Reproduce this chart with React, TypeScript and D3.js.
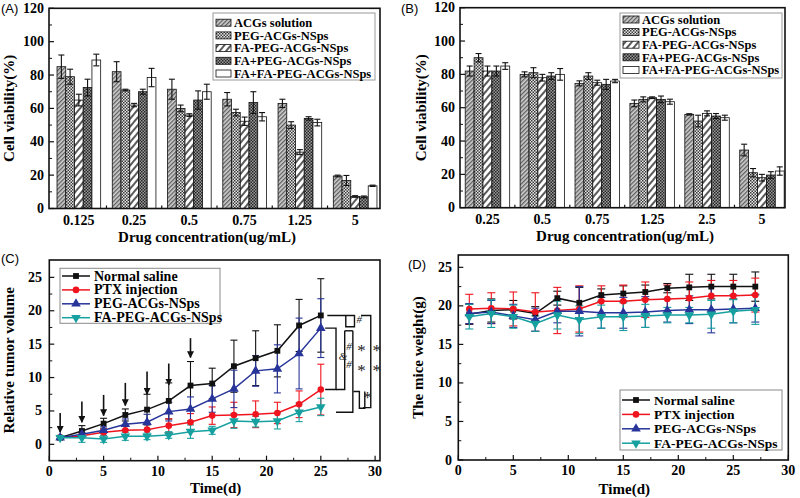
import React from "react";
import * as d3 from "d3";

// ---------- DATA ----------
const seriesNames = ["ACGs solution", "PEG-ACGs-NSps", "FA-PEG-ACGs-NSps", "FA+PEG-ACGs-NSps", "FA+FA-PEG-ACGs-NSps"];

const catsA = ["0.125", "0.25", "0.5", "0.75", "1.25", "5"];
const acgA = [85, 82, 71.5, 65.5, 63, 19.5];
const acgAErr = [7, 6, 6, 4, 2.5, 0.5];
const pegA = [79, 71, 60, 57.5, 50, 16.8];
const pegAErr = [4.5, 0.5, 2, 2, 2, 3];
const faPegA = [65, 62, 56, 52.3, 33.8, 7.2];
const faPegAErr = [3.5, 1, 0.8, 2.5, 1.5, 0.5];
const faPlusPegA = [72.5, 70, 65, 63.5, 54, 7];
const faPlusPegAErr = [5, 1.5, 5.5, 6.5, 1, 0.5];
const faFaA = [89, 78.5, 70, 55, 51.5, 13.6];
const faFaAErr = [3.5, 5.5, 4.5, 2.5, 2, 0.4];

const catsB = ["0.25", "0.5", "0.75", "1.25", "2.5", "5"];
const acgB = [82, 80, 74.6, 62.6, 56, 34.6];
const acgBErr = [3, 1.5, 1.5, 2, 0.4, 3.5];
const pegB = [90, 81, 79, 65, 52, 21];
const pegBErr = [2.5, 3, 2, 1.5, 3.5, 2.5];
const faPegB = [82, 78, 75, 66, 56.6, 18];
const faPegBErr = [3, 2, 1.5, 0.5, 1.5, 2];
const faPlusPegB = [82, 79, 74, 65, 55, 19.6];
const faPlusPegBErr = [3, 2, 3, 2, 1.5, 2];
const faFaB = [85, 80, 76, 63.6, 54, 22];
const faFaBErr = [2, 3.5, 1, 1.5, 1.5, 2.5];

const lineNames = ["Normal saline", "PTX injection", "PEG-ACGs-NSps", "FA-PEG-ACGs-NSps"];

const daysC = [1, 3, 5, 7, 9, 11, 13, 15, 17, 19, 21, 23, 25];
const salineC = [1, 2.0, 3.1, 4.4, 5.2, 6.5, 8.8, 9.1, 11.7, 12.9, 14.0, 17.8, 19.3];
const salineCErr = [0.2, 0.8, 0.8, 0.9, 2.3, 2.7, 3.6, 2.3, 3.9, 4.1, 3.9, 3.9, 5.5];
const ptxC = [1, 1.3, 1.8, 2.1, 2.2, 2.8, 3.3, 4.3, 4.4, 4.5, 4.7, 6.0, 8.2];
const ptxCErr = [0.2, 0.3, 0.5, 0.7, 0.8, 1.0, 1.3, 1.3, 1.9, 2.0, 1.6, 2.0, 3.8];
const pegC = [1, 1.5, 2.1, 3.0, 3.3, 4.9, 5.3, 6.8, 8.3, 11.0, 11.3, 13.6, 17.4];
const pegCErr = [0.2, 0.3, 0.5, 0.8, 1.2, 1.4, 1.8, 2.0, 2.8, 2.3, 3.6, 5.3, 4.4];
const faPegC = [1, 1.0, 0.8, 1.2, 1.2, 1.4, 1.9, 2.1, 3.5, 3.4, 3.5, 4.8, 5.6];
const faPegCErr = [0.2, 0.7, 0.5, 0.6, 0.5, 0.5, 1.0, 0.6, 1.1, 0.8, 1.2, 1.4, 1.3];
const arrowDays = [1, 3, 5, 7, 9, 11, 13];
const arrowTop = [4.7, 6.4, 7.4, 9.2, 10.9, 12.1, 15.9];
const arrowTip = [1.8, 3.3, 4.3, 5.8, 7.5, 8.9, 13.0];

const daysD = [1, 3, 5, 7, 9, 11, 13, 15, 17, 19, 21, 23, 25, 27];
const salineD = [18.9, 19.4, 19.5, 19.0, 21.0, 20.4, 21.4, 21.6, 21.8, 22.3, 22.4, 22.5, 22.5, 22.5];
const salineDErr = [1.3, 1.5, 1.2, 0.9, 0.9, 2.0, 0.8, 1.0, 0.9, 0.6, 1.7, 1.6, 1.6, 1.9];
const ptxD = [19.6, 19.7, 19.6, 19.2, 19.4, 19.6, 20.6, 20.6, 20.8, 20.9, 21.0, 21.3, 21.3, 21.4];
const ptxDErr = [1.9, 2.0, 2.2, 2.5, 3.0, 3.0, 2.0, 2.1, 2.3, 1.8, 2.1, 2.0, 2.0, 2.2];
const pegD = [19.0, 19.2, 18.7, 18.2, 19.3, 19.3, 19.1, 19.1, 19.2, 19.4, 19.5, 19.5, 19.6, 19.7];
const pegDErr = [1.3, 1.5, 1.5, 1.5, 1.5, 3.2, 2.0, 2.0, 2.0, 1.5, 1.8, 3.0, 1.8, 1.8];
const faPegD = [18.6, 19.0, 18.6, 17.7, 18.8, 18.2, 18.6, 18.6, 18.7, 18.8, 18.8, 18.9, 19.3, 19.5];
const faPegDErr = [1.6, 1.8, 1.5, 1.0, 1.8, 1.8, 1.5, 1.8, 1.5, 1.0, 1.0, 1.8, 1.5, 1.9];

// significance brackets of panel C, in data units (day, volume)
const bracketPaths: [number, number][][] = [
  [[25.4, 17.4], [26.4, 17.4], [26.4, 8.2], [25.4, 8.2]],
  [[25.6, 19.3], [28.1, 19.3], [28.1, 17.6], [27.3, 17.6], [27.3, 19.3]],
  [[27.2, 17.0], [27.95, 17.0]],
  [[26.4, 8.2], [27.2, 8.2], [27.2, 17.0]],
  [[26.4, 4.8], [27.95, 4.8], [27.95, 17.0]],
  [[28.7, 19.3], [29.6, 19.3], [29.6, 5.5], [28.9, 5.5]],
  [[28.0, 7.9], [28.55, 7.9], [28.55, 5.4], [29.05, 5.4], [29.05, 7.9]],
];
const bracketLabels: [number, number, string][] = [
  [27.05, 12.6, "&"],
  [28.55, 18.1, "#"],
  [27.6, 14.1, "#"],
  [27.6, 11.4, "#"],
  [28.75, 13.3, "*"],
  [28.75, 10.3, "*"],
  [30.15, 13.3, "*"],
  [30.15, 10.3, "*"],
  [29.3, 6.2, "*"],
];

// ---------- STYLE ----------
const serif = "'Liberation Serif', 'Times New Roman', serif";
const sans = "'Liberation Sans', Arial, sans-serif";
const patterns = ["url(#pACG)", "url(#pPEG)", "url(#pFAPEG)", "url(#pFAP)", "#ffffff"];
const lineColors = ["#111111", "#f0141e", "#27349a", "#17a0a0"];
const markerTypes = [d3.symbolSquare, d3.symbolCircle, d3.symbolTriangle, d3.symbolTriangle];

type BarProps = {
  L: number; R: number; T: number; B: number;
  xDom: [number, number];
  cats: string[];
  vals: number[][];
  errs: number[][];
  bw: number;
  legend: { x: number; y: number; w: number; h: number; y0: number; dy: number; sw: number };
  yLabelX: number; tickLabelR: number;
  xTitleX: number;
  tag: string; tagX: number;
};

function BarPanel(p: BarProps) {
  const xs = d3.scaleLinear().domain(p.xDom).range([p.L, p.R]);
  const ys = d3.scaleLinear().domain([0, 120]).range([p.B, p.T]);
  const bwPx = xs(p.bw) - xs(0);
  const yMajor = d3.range(0, 121, 20);
  const yMinor = d3.range(10, 120, 20);
  return (
    <g>
      <text x={p.tagX} y={13} fontFamily={sans} fontSize={13}>{p.tag}</text>
      {p.vals.map((arr, s) =>
        arr.map((v, i) => {
          const x0 = xs(i - 2.5 * p.bw + s * p.bw);
          return (
            <rect key={`b${s}-${i}`} x={x0} y={ys(v)} width={bwPx} height={ys(0) - ys(v)}
              fill={patterns[s]} stroke="#111" strokeWidth={0.8} />
          );
        })
      )}
      {p.vals.map((arr, s) =>
        arr.map((v, i) => {
          const cx = xs(i - 2 * p.bw + s * p.bw);
          const e = p.errs[s][i];
          return (
            <g key={`e${s}-${i}`} stroke="#111" strokeWidth={1.1}>
              <line x1={cx} x2={cx} y1={ys(v - e)} y2={ys(v + e)} />
              <line x1={cx - 3} x2={cx + 3} y1={ys(v - e)} y2={ys(v - e)} />
              <line x1={cx - 3} x2={cx + 3} y1={ys(v + e)} y2={ys(v + e)} />
            </g>
          );
        })
      )}
      <rect x={p.L} y={p.T} width={p.R - p.L} height={p.B - p.T} fill="none" stroke="#111" strokeWidth={1.6} />
      {yMajor.map((t) => (
        <g key={`ym${t}`}>
          <line x1={p.L} x2={p.L + 5} y1={ys(t)} y2={ys(t)} stroke="#111" strokeWidth={1.2} />
          <text x={p.tickLabelR} y={ys(t) + 4.5} textAnchor="end" fontFamily={serif} fontWeight="bold" fontSize={14}>{t}</text>
        </g>
      ))}
      {yMinor.map((t) => (
        <line key={`yn${t}`} x1={p.L} x2={p.L + 3} y1={ys(t)} y2={ys(t)} stroke="#111" strokeWidth={1} />
      ))}
      {p.cats.slice(0, -1).map((c, i) => (
        <line key={`xt${i}`} x1={xs(i + 0.5)} x2={xs(i + 0.5)} y1={p.B} y2={p.B - 3} stroke="#111" strokeWidth={1.2} />
      ))}
      {p.cats.map((c, i) => (
        <text key={`xl${i}`} x={xs(i)} y={p.B + 16} textAnchor="middle" fontFamily={serif} fontWeight="bold" fontSize={14}>{c}</text>
      ))}
      <text x={p.xTitleX} y={p.B + 33} textAnchor="middle" fontFamily={serif} fontWeight="bold" fontSize={15}>Drug concentration(ug/mL)</text>
      <text transform={`translate(${p.yLabelX},${(p.T + p.B) / 2}) rotate(-90)`} textAnchor="middle" fontFamily={serif} fontWeight="bold" fontSize={15}>Cell viability(%)</text>
      <rect x={p.legend.x} y={p.legend.y} width={p.legend.w} height={p.legend.h} fill="#fff" stroke="#9a9a9a" strokeWidth={1} />
      {seriesNames.map((n, s) => {
        const cy = p.legend.y0 + s * p.legend.dy;
        return (
          <g key={`lg${s}`}>
            <rect x={p.legend.x + 3} y={cy - 3.5} width={p.legend.sw} height={7} fill={patterns[s]} stroke="#111" strokeWidth={0.8} />
            <text x={p.legend.x + 6 + p.legend.sw} y={cy + 4.3} fontFamily={serif} fontWeight="bold" fontSize={12.5}>{n}</text>
          </g>
        );
      })}
    </g>
  );
}

type LineSeries = { vals: number[]; errs: number[] };
type LineProps = {
  L: number; R: number; T: number; B: number;
  xDom: [number, number]; yDom: [number, number];
  days: number[]; series: LineSeries[];
  yTitle: string; yTitleX: number; tickLabelR: number; xTitleY: number;
  legend: { x: number; y: number; w: number; h: number; y0: number; dy: number; fs: number };
  tag: string; tagX: number; tagY: number;
  cap: number;
  children?: (xs: d3.ScaleLinear<number, number>, ys: d3.ScaleLinear<number, number>) => React.ReactNode;
};

function markerPath(s: number, size: number) {
  return d3.symbol().type(markerTypes[s]).size(size)() as string;
}

function LinePanel(p: LineProps) {
  const xs = d3.scaleLinear().domain(p.xDom).range([p.L, p.R]);
  const ys = d3.scaleLinear().domain(p.yDom).range([p.B, p.T]);
  const line = d3.line<number>().x((_, i) => xs(p.days[i])).y((d) => ys(d));
  const yMajor = d3.range(0, 25.01, 5);
  const yMinor = d3.range(2.5, 25, 5);
  const xMajor = d3.range(0, 30.01, 5);
  const xMinor = d3.range(2.5, 30, 5);
  const msize = [34, 34, 40, 40];
  return (
    <g>
      <text x={p.tagX} y={p.tagY} fontFamily={sans} fontSize={13}>{p.tag}</text>
      {p.series.map((s, k) => (
        <g key={`err${k}`} stroke={lineColors[k]} strokeWidth={1.1}>
          {s.vals.map((v, i) => {
            const cx = xs(p.days[i]);
            const e = s.errs[i];
            return (
              <g key={i}>
                <line x1={cx} x2={cx} y1={ys(v - e)} y2={ys(v + e)} />
                <line x1={cx - p.cap} x2={cx + p.cap} y1={ys(v - e)} y2={ys(v - e)} />
                <line x1={cx - p.cap} x2={cx + p.cap} y1={ys(v + e)} y2={ys(v + e)} />
              </g>
            );
          })}
        </g>
      ))}
      {p.series.map((s, k) => (
        <g key={`ln${k}`}>
          <path d={line(s.vals) as string} fill="none" stroke={lineColors[k]} strokeWidth={1.5} />
          {s.vals.map((v, i) => (
            <path key={i} d={markerPath(k, msize[k])}
              transform={`translate(${xs(p.days[i])},${ys(v)})${k === 3 ? " rotate(180)" : ""}`}
              fill={lineColors[k]} />
          ))}
        </g>
      ))}
      {p.children ? p.children(xs, ys) : null}
      <rect x={p.L} y={p.T} width={p.R - p.L} height={p.B - p.T} fill="none" stroke="#111" strokeWidth={1.6} />
      {yMajor.map((t) => (
        <g key={`ym${t}`}>
          <line x1={p.L} x2={p.L + 5} y1={ys(t)} y2={ys(t)} stroke="#111" strokeWidth={1.2} />
          <text x={p.tickLabelR} y={ys(t) + 4.5} textAnchor="end" fontFamily={serif} fontWeight="bold" fontSize={14}>{t}</text>
        </g>
      ))}
      {yMinor.map((t) => (
        <line key={`yn${t}`} x1={p.L} x2={p.L + 3} y1={ys(t)} y2={ys(t)} stroke="#111" strokeWidth={1} />
      ))}
      {xMajor.map((t) => (
        <g key={`xm${t}`}>
          <line x1={xs(t)} x2={xs(t)} y1={p.B} y2={p.B - 5} stroke="#111" strokeWidth={1.2} />
          <text x={xs(t)} y={p.B + 15} textAnchor="middle" fontFamily={serif} fontWeight="bold" fontSize={14}>{t}</text>
        </g>
      ))}
      {xMinor.map((t) => (
        <line key={`xn${t}`} x1={xs(t)} x2={xs(t)} y1={p.B} y2={p.B - 3} stroke="#111" strokeWidth={1} />
      ))}
      <text x={(p.L + p.R) / 2 + 1} y={p.xTitleY} textAnchor="middle" fontFamily={serif} fontWeight="bold" fontSize={15}>Time(d)</text>
      <text transform={`translate(${p.yTitleX},${(p.T + p.B) / 2}) rotate(-90)`} textAnchor="middle" fontFamily={serif} fontWeight="bold" fontSize={15}>{p.yTitle}</text>
      <rect x={p.legend.x} y={p.legend.y} width={p.legend.w} height={p.legend.h} fill="#fff" stroke="#8a8a8a" strokeWidth={1} />
      {lineNames.map((n, k) => {
        const cy = p.legend.y0 + k * p.legend.dy;
        const lx = p.legend.x + 2;
        return (
          <g key={`lg${k}`}>
            <line x1={lx} x2={lx + 28} y1={cy} y2={cy} stroke={lineColors[k]} strokeWidth={1.5} />
            <path d={markerPath(k, msize[k])} transform={`translate(${lx + 14},${cy})${k === 3 ? " rotate(180)" : ""}`} fill={lineColors[k]} />
            <text x={lx + 32} y={cy + 4.5} fontFamily={serif} fontWeight="bold" fontSize={p.legend.fs}>{n}</text>
          </g>
        );
      })}
    </g>
  );
}

export default function App() {
  return (
    <svg width={800} height={498} style={{ position: "absolute", left: 0, top: 0, background: "#fff" }}>
      <defs>
        <pattern id="pACG" width={3} height={3} patternUnits="userSpaceOnUse" patternTransform="rotate(45)">
          <rect width={3} height={3} fill="#cfcfcf" />
          <line x1={0.7} y1={0} x2={0.7} y2={3} stroke="#4a4a4a" strokeWidth={1.1} />
        </pattern>
        <pattern id="pPEG" width={3} height={3} patternUnits="userSpaceOnUse">
          <rect width={3} height={3} fill="#e6e6e6" />
          <rect width={1.5} height={1.5} fill="#3a3a3a" />
          <rect x={1.5} y={1.5} width={1.5} height={1.5} fill="#3a3a3a" />
        </pattern>
        <pattern id="pFAPEG" width={5} height={5} patternUnits="userSpaceOnUse" patternTransform="rotate(40)">
          <rect width={5} height={5} fill="#ffffff" />
          <line x1={1} y1={0} x2={1} y2={5} stroke="#222" strokeWidth={1.5} />
        </pattern>
        <pattern id="pFAP" width={3} height={3} patternUnits="userSpaceOnUse">
          <rect width={3} height={3} fill="#9a9a9a" />
          <rect width={1.5} height={1.5} fill="#262626" />
          <rect x={1.5} y={1.5} width={1.5} height={1.5} fill="#262626" />
        </pattern>
        <marker id="arrowHead" viewBox="0 0 10 10" refX={9} refY={5} markerWidth={7} markerHeight={7} markerUnits="userSpaceOnUse" orient="auto">
          <path d="M0,0 L10,5 L0,10 z" fill="#111" />
        </marker>
      </defs>

      <BarPanel L={49} R={380} T={8.3} B={208.5} xDom={[-0.54, 5.45]} cats={catsA}
        vals={[acgA, pegA, faPegA, faPlusPegA, faFaA]}
        errs={[acgAErr, pegAErr, faPegAErr, faPlusPegAErr, faFaAErr]}
        bw={0.158}
        legend={{ x: 213, y: 13, w: 162, h: 67, y0: 22.7, dy: 12.7, sw: 15 }}
        yLabelX={14} tickLabelR={44} xTitleX={207} tag="(A)" tagX={1} />

      <BarPanel L={460} R={785} T={7.7} B={207.7} xDom={[-0.5, 5.42]} cats={catsB}
        vals={[acgB, pegB, faPegB, faPlusPegB, faFaB]}
        errs={[acgBErr, pegBErr, faPegBErr, faPlusPegBErr, faFaBErr]}
        bw={0.162}
        legend={{ x: 620, y: 13, w: 162, h: 65, y0: 19.5, dy: 12.6, sw: 16 }}
        yLabelX={426} tickLabelR={455} xTitleX={625} tag="(B)" tagX={401} />

      <LinePanel L={49.3} R={380} T={260} B={460.7} xDom={[0, 30.45]} yDom={[-2.45, 27.6]}
        days={daysC}
        series={[
          { vals: salineC, errs: salineCErr },
          { vals: ptxC, errs: ptxCErr },
          { vals: pegC, errs: pegCErr },
          { vals: faPegC, errs: faPegCErr },
        ]}
        yTitle="Relative tumor volume" yTitleX={14} tickLabelR={42} xTitleY={493}
        legend={{ x: 60, y: 268.3, w: 160, h: 55, y0: 276, dy: 13.9, fs: 14 }}
        tag="(C)" tagX={1} tagY={263} cap={3.5}>
        {(xs, ys) => (
          <g>
            {arrowDays.map((d, i) => (
              <line key={`ar${i}`} x1={xs(d)} x2={xs(d)} y1={ys(arrowTop[i])} y2={ys(arrowTip[i])}
                stroke="#111" strokeWidth={1.6} markerEnd="url(#arrowHead)" />
            ))}
            {bracketPaths.map((pts, i) => (
              <path key={`bk${i}`} d={d3.line<[number, number]>().x((q) => xs(q[0])).y((q) => ys(q[1]))(pts) as string}
                fill="none" stroke="#111" strokeWidth={1.4} />
            ))}
            {bracketLabels.map(([x, y, t], i) => (
              <text key={`bl${i}`} x={xs(x)} y={ys(y)} textAnchor="middle" fontFamily={serif} fontStyle={t === "*" ? "normal" : "italic"} fontSize={t === "*" ? 17 : 11} fill="#222">{t}</text>
            ))}
          </g>
        )}
      </LinePanel>

      <LinePanel L={458.3} R={788.3} T={255} B={460} xDom={[0, 30]} yDom={[0, 26.6]}
        days={daysD}
        series={[
          { vals: salineD, errs: salineDErr },
          { vals: ptxD, errs: ptxDErr },
          { vals: pegD, errs: pegDErr },
          { vals: faPegD, errs: faPegDErr },
        ]}
        yTitle="The mice weight(g)" yTitleX={423} tickLabelR={452} xTitleY={494}
        legend={{ x: 620, y: 390, w: 162, h: 60, y0: 400, dy: 14.4, fs: 13.5 }}
        tag="(D)" tagX={408} tagY={269} cap={4} />
    </svg>
  );
}
